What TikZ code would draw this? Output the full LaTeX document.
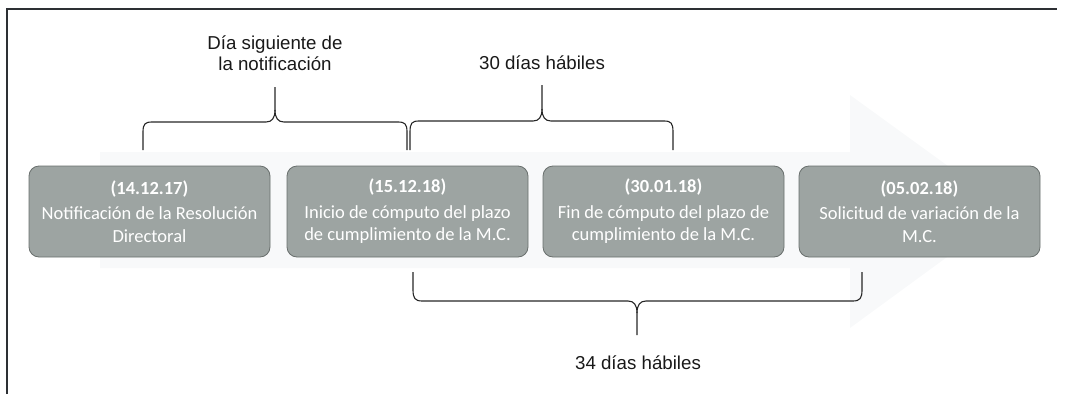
\documentclass[tikz,border=0pt]{standalone}
\usepackage{fontspec}
\setmainfont{Liberation Sans}
\newfontfamily\boxfont{Carlito}
\definecolor{boxfill}{RGB}{157,164,162}
\definecolor{boxedge}{RGB}{105,111,109}
\definecolor{arrowbg}{RGB}{248,249,250}
\definecolor{framecol}{RGB}{45,48,52}
\tikzset{
  stepbox/.style={draw=boxedge, fill=boxfill, rounded corners=10pt, minimum width=241pt,
    minimum height=91pt, inner sep=0pt, line width=0.8pt, text=white, align=center,
    font=\boxfont\fontsize{18.5}{22.5}\selectfont},
  bracepath/.style={draw=black!85, line width=1.1pt},
  lbl/.style={font=\fontsize{18.7}{21}\selectfont, align=center, inner sep=0pt, text=black!90}
}
\begin{document}
\begin{tikzpicture}[x=1pt,y=-1pt]
\useasboundingbox (0,0) rectangle (1065,394);
% frame
\draw[framecol, line width=1.2pt] (7,394) -- (7,9) -- (1057,9);
% faint background arrow
\fill[arrowbg] (100,152) -- (850,152) -- (850,95) -- (1010,211) -- (850,328) -- (850,268) -- (100,268) -- cycle;
% boxes
\node[stepbox] (b1) at (149.5,211.5) {{\bfseries (14.12.17)}\\[3pt]Notificación de la Resolución\\Directoral};
\node[stepbox] (b2) at (407.5,211.5) {{\bfseries (15.12.18)}\\[3pt]Inicio de cómputo del plazo\\de cumplimiento de la M.C.};
\node[stepbox] (b3) at (663.5,211.5) {{\bfseries (30.01.18)}\\[3pt]Fin de cómputo del plazo de\\cumplimiento de la M.C.};
\node[stepbox] (b4) at (919.5,211.5) {{\bfseries (05.02.18)}\\[3pt]Solicitud de variación de la\\M.C.};
% labels
\node[lbl] (l1) at (275,53) {Día siguiente de\\la notificación};
\node[lbl] (l2) at (542,63) {30 días hábiles};
\node[lbl] (l3) at (638,363) {34 días hábiles};
% brace coordinates
\coordinate (a1) at (143,150); \coordinate (a2) at (407,150); \coordinate (at) at (275,87);
\coordinate (c1) at (410,150); \coordinate (c2) at (673,150); \coordinate (ct) at (542,85);
\coordinate (d1) at (413,272); \coordinate (d2) at (862,272); \coordinate (dt) at (637,335);
% top brace 1
\draw[bracepath] (a1) -- (143,132) .. controls (143,124) and (145,122) .. (152,122) -- (266,122)
  .. controls (272,122) and (275,118) .. (275,110) -- (at);
\draw[bracepath] (a2) -- (407,132) .. controls (407,124) and (405,122) .. (398,122) -- (284,122)
  .. controls (278,122) and (275,118) .. (275,110);
% top brace 2
\draw[bracepath] (c1) -- (410,132) .. controls (410,123) and (412,121) .. (419,121) -- (533,121)
  .. controls (539,121) and (542,117) .. (542,109) -- (ct);
\draw[bracepath] (c2) -- (673,132) .. controls (673,123) and (671,121) .. (664,121) -- (551,121)
  .. controls (545,121) and (542,117) .. (542,109);
% bottom brace
\draw[bracepath] (d1) -- (413,290) .. controls (413,298) and (415,301) .. (422,301) -- (628,301)
  .. controls (634,301) and (637,305) .. (637,313) -- (dt);
\draw[bracepath] (d2) -- (862,290) .. controls (862,298) and (860,301) .. (853,301) -- (646,301)
  .. controls (640,301) and (637,305) .. (637,313);
\end{tikzpicture}
\end{document}
